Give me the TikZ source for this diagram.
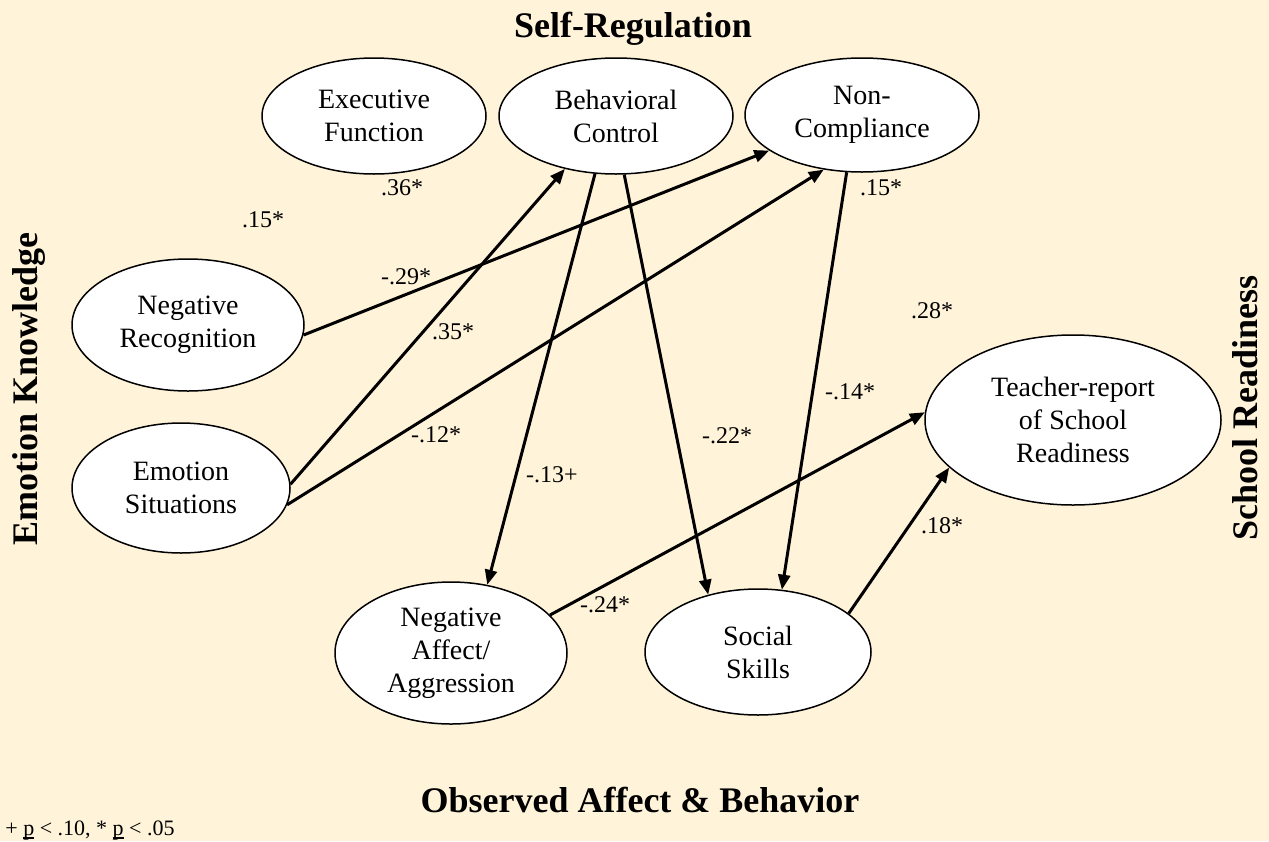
\documentclass[tikz,border=0pt]{standalone}
\usepackage{fontspec}
\setmainfont{Liberation Serif}
\usetikzlibrary{shapes.geometric,arrows.meta}
\definecolor{bg}{HTML}{FFF3D9}
\newcommand{\ulp}{\leavevmode\rlap{\rule[-1.8pt]{5.5pt}{0.7pt}}p}
\begin{document}
\begin{tikzpicture}[x=0.5pt,y=-0.5pt,
  lat/.style={ellipse,draw,fill=white,line width=0.75pt,inner sep=0pt,align=center,
    font=\fontsize{14}{16.5}\selectfont},
  pathline/.style={line width=1.5pt,-{Triangle[length=7.5pt,width=6pt]}},
  coef/.style={font=\fontsize{12}{14}\selectfont,inner sep=0pt},
  ttl/.style={font=\fontsize{18}{21}\selectfont\bfseries,inner sep=0pt}]
\fill[bg] (0,0) rectangle (1269,841);
\useasboundingbox (0,0) rectangle (1269,841);

% titles
\node[ttl,anchor=base] (tSR) at (633,37) {Self-Regulation};
\node[ttl,anchor=base] (tOA) at (640,812) {Observed Affect \& Behavior};
\node[ttl,anchor=base,rotate=90] (tEK) at (37,389) {Emotion Knowledge};
\node[ttl,anchor=base,rotate=90] (tSch) at (1257,408) {School Readiness};

% latent ovals
\node[lat,minimum width=112pt,minimum height=58pt] (EF) at (374,116) {Executive\\Function};
\node[lat,minimum width=117pt,minimum height=58pt] (BC) at (616,116) {Behavioral\\Control};
\node[lat,minimum width=117pt,minimum height=57pt] (NC) at (862,115) {Non-\\Compliance};
\node[lat,minimum width=116pt,minimum height=66pt] (NR) at (188,325) {Negative\\Recognition};
\node[lat,minimum width=109pt,minimum height=65pt] (ES) at (181,488) {Emotion\\Situations};
\node[lat,minimum width=116pt,minimum height=71pt] (NA) at (451,653) {Negative\\Affect/\\Aggression};
\node[lat,minimum width=113pt,minimum height=63pt] (SS) at (758,652) {Social\\Skills};
\node[lat,minimum width=148pt,minimum height=85pt] (TR) at (1073,420) {Teacher-report\\of School\\Readiness};

% paths
\draw[pathline] (ES.2) -- (BC.226);
\draw[pathline] (ES.-9) -- (NC.235);
\draw[pathline] (NR.-5.5) -- (NC.201.5);
\draw[pathline] (BC.250) -- (NA.62);
\draw[pathline] (BC.278) -- (SS.131);
\draw[pathline] (NC.255) -- (SS.69);
\draw[pathline] (NA.21) -- (TR.177);
\draw[pathline] (SS.23) -- (TR.201);

% coefficients
\node[coef] (c1) at (402,188) {.36*};
\node[coef] (c2) at (263,220) {.15*};
\node[coef] (c3) at (881,188) {.15*};
\node[coef] (c4) at (406,277) {-.29*};
\node[coef] (c5) at (453,332) {.35*};
\node[coef] (c6) at (932,311) {.28*};
\node[coef] (c7) at (850,392) {-.14*};
\node[coef] (c8) at (436,435) {-.12*};
\node[coef] (c9) at (727,436) {-.22*};
\node[coef] (c10) at (552,475) {-.13+};
\node[coef] (c11) at (942,526) {.18*};
\node[coef] (c12) at (605,605) {-.24*};

% footnote
\node[anchor=base west,inner sep=0pt,font=\fontsize{11}{13}\selectfont] (fn) at (5,835)
  {+ \ulp{} < .10, * \ulp{} < .05};
\end{tikzpicture}
\end{document}
